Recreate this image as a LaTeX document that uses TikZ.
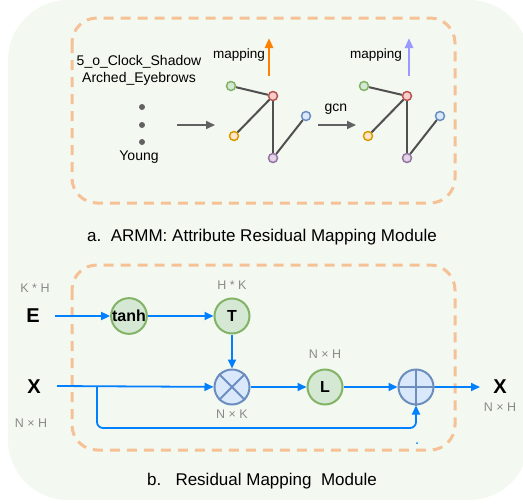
\documentclass[tikz,border=0pt]{standalone}
\usepackage{fontspec}
\setmainfont{Liberation Sans}
\usetikzlibrary{arrows.meta}
\definecolor{bggreen}{HTML}{F3F9F1}
\definecolor{peach}{HTML}{F6C196}
\definecolor{arrblue}{HTML}{007FFF}
\definecolor{dimgray}{HTML}{8A8A8A}
\definecolor{edgegray}{HTML}{505050}
\definecolor{greenS}{HTML}{82B366}\definecolor{greenF}{HTML}{D5E8D4}
\definecolor{redS}{HTML}{B85450}\definecolor{redF}{HTML}{F8CECC}
\definecolor{orS}{HTML}{D79B00}\definecolor{orF}{HTML}{FFE6CC}
\definecolor{blS}{HTML}{6C8EBF}\definecolor{blF}{HTML}{DAE8FC}
\definecolor{puS}{HTML}{9673A6}\definecolor{puF}{HTML}{E1D5E7}
\definecolor{mapor}{HTML}{FF8000}
\definecolor{maplav}{HTML}{9999FF}
\tikzset{
  dashbox/.style={draw=peach, line width=3pt, dash pattern=on 10pt off 7pt, rounded corners=25pt},
  gnode/.style={circle, minimum size=9pt, inner sep=0pt, line width=1.5pt},
  gedge/.style={draw=edgegray, line width=2pt},
  grayarrow/.style={draw=edgegray!90, line width=2pt, -{Triangle[length=9pt,width=8pt]}},
  maparrow/.style={line width=2.5pt, -{Triangle[length=10pt,width=8pt]}},
  barrow/.style={draw=arrblue, line width=1.8pt, -{Triangle[length=9pt,width=8pt]}, fill=none},
  greenop/.style={circle, minimum size=35pt, inner sep=0pt, draw=greenS, fill=greenF, line width=2pt, font=\fontsize{16}{18}\selectfont\bfseries},
  blueop/.style={circle, minimum size=35pt, inner sep=0pt, draw=blS, fill=blF, line width=2pt},
  dimlab/.style={text=dimgray, font=\fontsize{12.5}{14}\selectfont, inner sep=0pt},
  attr/.style={font=\fontsize{14}{16}\selectfont, inner sep=0pt},
  maplab/.style={font=\fontsize{13.5}{15}\selectfont, inner sep=0pt},
  biglab/.style={font=\fontsize{20}{22}\selectfont\bfseries, inner sep=0pt},
  title/.style={font=\fontsize{17}{19}\selectfont, inner sep=0pt}
}
\begin{document}
\begin{tikzpicture}[x=1pt,y=-1pt]
\useasboundingbox (0,0) rectangle (523,504);
\begin{scope}
\clip (0,0) rectangle (523,504);
\fill[bggreen, rounded corners=60pt] (8,0) rectangle (529,500);
\end{scope}

% dashed boxes
\draw[dashbox] (72,18) rectangle (455,203);
\draw[dashbox] (72,265) rectangle (455,450);

% ---------- part a ----------
\node[attr] (s1) at (139,62) {5\_o\_Clock\_Shadow};
\node[attr] (s2) at (139,79) {Arched\_Eyebrows};
\node[circle, fill=edgegray!90, inner sep=0pt, minimum size=6pt] (d1) at (142,107) {};
\node[circle, fill=edgegray!90, inner sep=0pt, minimum size=6pt] (d2) at (142,125) {};
\node[circle, fill=edgegray!90, inner sep=0pt, minimum size=6pt] (d3) at (142,142) {};
\node[attr] (s3) at (139,157) {Young};

\coordinate (a1s) at (177,125);
\coordinate (a1e) at (215,125);
\draw[grayarrow] (a1s) -- (a1e);

% graph 1
\node[gnode, draw=greenS, fill=greenF] (g1) at (231,86) {};
\node[gnode, draw=redS, fill=redF] (r1) at (273,96) {};
\node[gnode, draw=orS, fill=orF] (o1) at (234,136) {};
\node[gnode, draw=puS, fill=puF] (p1) at (273,158) {};
\node[gnode, draw=blS, fill=blF] (b1) at (306,116) {};
\draw[gedge] (g1) -- (r1);
\draw[gedge] (r1) -- (o1);
\draw[gedge] (r1) -- (p1);
\draw[gedge] (p1) -- (b1);
\coordinate (m1s) at (269,76);
\coordinate (m1e) at (269,38);
\draw[maparrow, draw=mapor, fill=mapor] (m1s) -- (m1e);
\node[maplab] (ml1) at (239,55) {mapping};

\coordinate (a2s) at (318,125);
\coordinate (a2e) at (356,125);
\draw[grayarrow] (a2s) -- (a2e);
\node[maplab, font=\fontsize{14}{16}\selectfont] (gcn) at (336,109) {gcn};

% graph 2
\node[gnode, draw=greenS, fill=greenF] (g2) at (364,86) {};
\node[gnode, draw=redS, fill=redF] (r2) at (407,96) {};
\node[gnode, draw=orS, fill=orF] (o2) at (368,136) {};
\node[gnode, draw=puS, fill=puF] (p2) at (407,158) {};
\node[gnode, draw=blS, fill=blF] (b2) at (440,116) {};
\draw[gedge] (g2) -- (r2);
\draw[gedge] (r2) -- (o2);
\draw[gedge] (r2) -- (p2);
\draw[gedge] (p2) -- (b2);
\coordinate (m2s) at (409,76);
\coordinate (m2e) at (409,38);
\draw[maparrow, draw=maplav, fill=maplav] (m2s) -- (m2e);
\node[maplab] (ml2) at (376,55) {mapping};

\node[title] (ta) at (262,237) {a.~~ARMM: Attribute Residual Mapping Module};

% ---------- part b ----------
\node[biglab] (E) at (33,316) {E};
\node[dimlab] (kh) at (35,288) {K * H};
\node[biglab] (X) at (34,387) {X};
\node[dimlab] (nh1) at (31,423) {N × H};

\node[greenop] (tanh) at (129,316) {tanh};
\node[greenop] (T) at (232,316) {T};
\node[dimlab] (hk) at (232,285) {H * K};
\node[blueop] (mul) at (232,387) {};
\draw[blS, line width=2pt] (mul.45) -- (mul.225) (mul.135) -- (mul.315);
\node[dimlab] (nk) at (232,414) {N × K};
\node[greenop] (L) at (325,387) {L};
\node[dimlab] (nh2) at (325,354) {N × H};
\node[blueop] (add) at (416,387) {};
\draw[blS, line width=2pt] (add.north) -- (add.south) (add.west) -- (add.east);
\node[biglab] (Xo) at (500,387) {X};
\node[dimlab] (nh3) at (500,407) {N × H};

\coordinate (eS) at (55,316);
\coordinate (xS) at (57,386);
\coordinate (br) at (97,386);
\coordinate (oE) at (480,387);

\draw[barrow] (eS) -- (tanh);
\draw[barrow] (tanh) -- (T);
\draw[barrow] (T) -- (mul);
\draw[barrow] (xS) -- (mul);
\draw[barrow] (mul) -- (L);
\draw[barrow] (L) -- (add);
\draw[barrow] (add) -- (oE);
\draw[barrow, rounded corners=6pt] (br) |- (add.south |- 0,428) -- (add.south);
\fill[arrblue] (417,443) circle (1pt);

\node[title] (tb) at (262,481) {b.~~~Residual Mapping~~Module};
\end{tikzpicture}
\end{document}
